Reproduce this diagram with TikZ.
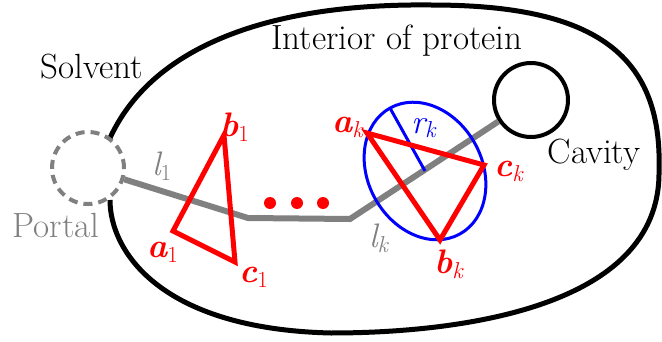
\documentclass[tikz,border=0pt]{standalone}
\definecolor{pgray}{RGB}{128,128,128}
\newcommand{\bigtxt}{\fontsize{35}{40}\selectfont}
\newcommand{\subtxt}[1]{\raisebox{-5pt}{\fontsize{23}{23}\selectfont #1}}
\newcommand{\blab}[2]{{\fontsize{34}{38}\selectfont\bfseries\itshape #1}\subtxt{#2}}
\newcommand{\ilab}[2]{{\fontsize{34}{38}\selectfont\itshape #1}\subtxt{#2}}
\begin{document}
\begin{tikzpicture}[x=1pt,y=1pt,
  outline/.style={line width=5pt, black},
  portalc/.style={circle, draw=pgray, dashed, dash pattern=on 9pt off 6pt, line width=4pt, minimum size=72pt, inner sep=0pt},
  cavityc/.style={circle, draw=black, line width=4pt, minimum size=74pt, inner sep=0pt},
  channel/.style={line width=6pt, pgray},
  tri/.style={line width=5pt, red, line join=miter},
  dotc/.style={circle, fill=red, minimum size=12pt, inner sep=0pt},
  txt/.style={anchor=base, inner sep=0pt, font=\bigtxt},
  lab/.style={anchor=base west, inner sep=0pt}]
\useasboundingbox (0,0) rectangle (662,341);
% outer boundary
\coordinate (s1) at (110,141);
\coordinate (s2) at (331,8);
\coordinate (s3) at (659,170);
\coordinate (s4) at (431,336);
\coordinate (s5) at (110,203);
\draw[outline] (s1) .. controls (110,90) and (160,12) .. (s2)
  .. controls (450,8) and (661,30) .. (s3)
  .. controls (663,290) and (590,336) .. (s4)
  .. controls (260,338) and (150,290) .. (s5);
% portal and cavity
\node[portalc] (portal) at (88,173) {};
\node[cavityc] (cavity) at (531,241) {};
% channel
\coordinate (p1) at (248,123);
\coordinate (p2) at (350,122);
\draw[channel] (portal) -- (p1) -- (p2) -- (cavity);
% dots
\node[dotc] (d1) at (270,138) {};
\node[dotc] (d2) at (297,138) {};
\node[dotc] (d3) at (323,138) {};
% triangle 1
\coordinate (a1) at (173,110);
\coordinate (b1) at (224,206);
\coordinate (c1) at (235,79);
\draw[tri] (a1) -- (b1) -- (c1) -- cycle;
% ellipse
\coordinate (ec) at (425,170);
\coordinate (re) at (390,233);
\draw[blue, line width=3pt, rotate around={119:(ec)}] (ec) ellipse [x radius=72pt, y radius=57pt];
\draw[blue, line width=3pt] (ec) -- (re);
% triangle k
\coordinate (ak) at (367,208);
\coordinate (ck) at (484,176);
\coordinate (bk) at (440,101);
\draw[tri] (ak) -- (ck) -- (bk) -- cycle;
% texts
\node[txt] (solv) at (92,263) {Solvent};
\node[txt] (inter) at (397,291) {Interior of protein};
\node[txt] (cav) at (594,178) {Cavity};
\node[txt, text=pgray] (port) at (56,104) {Portal};
\node[lab, text=red] (lb1) at (220,205) {\blab{b}{1}};
\node[lab, text=red] (la1) at (147,84) {\blab{a}{1}};
\node[lab, text=red] (lc1) at (239,59) {\blab{c}{1}};
\node[lab, text=pgray] (ll1) at (152,166) {\ilab{l}{1}};
\node[lab, text=red] (lak) at (332,209) {\blab{a}{\itshape k}};
\node[lab, text=blue] (lrk) at (411,208) {\ilab{r}{\itshape k}};
\node[lab, text=red] (lck) at (494,165) {\blab{c}{\itshape k}};
\node[lab, text=red] (lbk) at (434,68) {\blab{b}{\itshape k}};
\node[lab, text=pgray] (llk) at (369,94) {\ilab{l}{\itshape k}};
\end{tikzpicture}
\end{document}
